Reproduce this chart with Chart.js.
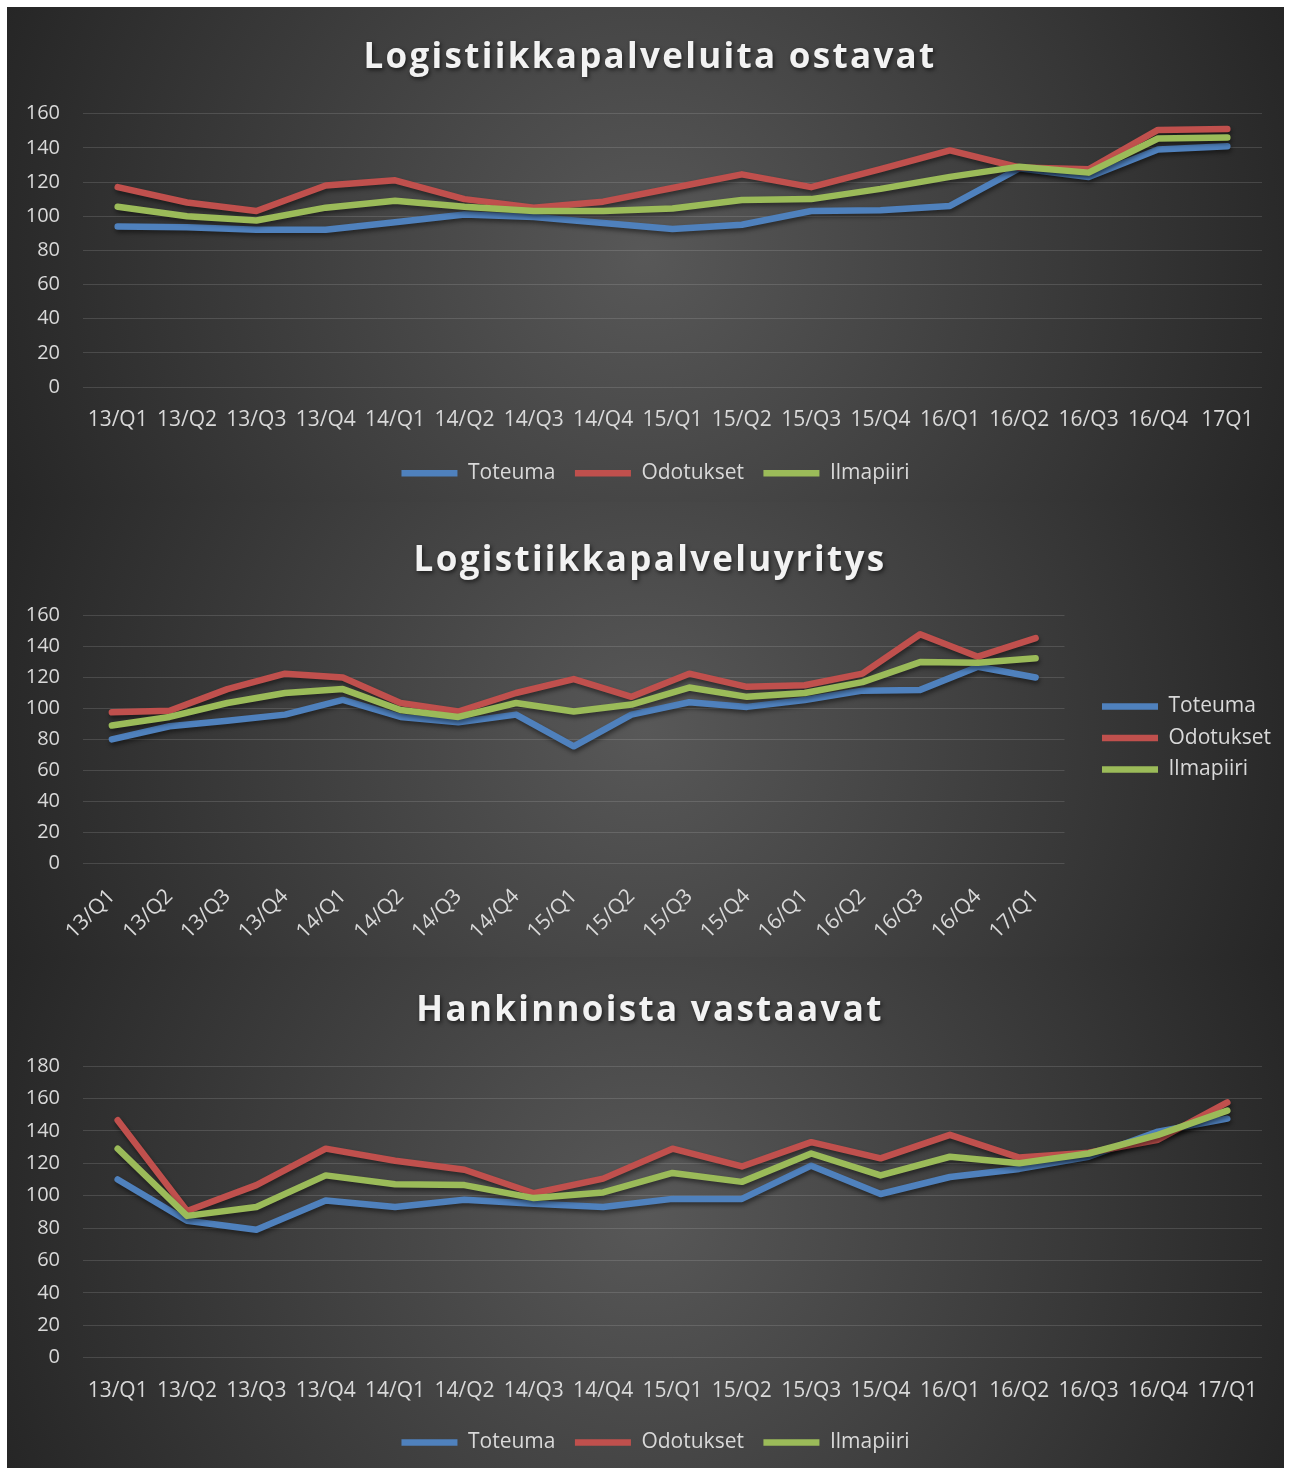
<!DOCTYPE html>
<html><head><meta charset="utf-8">
<script src="https://cdn.jsdelivr.net/npm/chart.js@4.4.1/dist/chart.umd.min.js"></script>
<style>
html,body{margin:0;padding:0;background:#fff;}
#frame{position:absolute;left:7px;top:7px;width:1277px;height:1461px;}
.panel{position:absolute;left:0;width:1277px;background:radial-gradient(circle farthest-corner at 50% 50%, #585858 0%, #262626 100%);}
.panel canvas{display:block;}
</style></head><body>
<div id="frame">
<div class="panel" style="top:0;height:495px"><canvas id="c1" width="1277" height="495"></canvas></div>
<div class="panel" style="top:495px;height:455px"><canvas id="c2" width="1277" height="455"></canvas></div>
<div class="panel" style="top:950px;height:511px"><canvas id="c3" width="1277" height="511"></canvas></div>
</div>
<script>
// ---- data ----
const seriesNames = ['Toteuma', 'Odotukset', 'Ilmapiiri'];
const categories1 = ['13/Q1','13/Q2','13/Q3','13/Q4','14/Q1','14/Q2','14/Q3','14/Q4','15/Q1','15/Q2','15/Q3','15/Q4','16/Q1','16/Q2','16/Q3','16/Q4','17Q1'];
const categories23 = ['13/Q1','13/Q2','13/Q3','13/Q4','14/Q1','14/Q2','14/Q3','14/Q4','15/Q1','15/Q2','15/Q3','15/Q4','16/Q1','16/Q2','16/Q3','16/Q4','17/Q1'];

const title1 = 'Logistiikkapalveluita ostavat';
const toteuma1   = [94, 93.5, 92, 92, 96.5, 101, 99.5, 96, 92.5, 95, 103, 103.5, 106, 128, 123, 139, 141];
const odotukset1 = [117, 108, 103, 118, 121, 110, 105, 108.5, 116.5, 124.5, 117, 127.5, 138.5, 128.5, 127.5, 150.5, 151];
const ilmapiiri1 = [105.5, 100, 97.5, 105, 109, 105.5, 103, 103, 104.5, 109.5, 110, 116, 123, 129, 125.5, 145.5, 146];

const title2 = 'Logistiikkapalveluyritys';
const toteuma2   = [80, 88.5, 92, 96, 105.5, 94.5, 91, 96, 75.5, 96, 104, 101, 105.5, 111.5, 112, 127, 120];
const odotukset2 = [97.5, 98.5, 112.5, 122.5, 120, 103.5, 98, 110, 119, 107.5, 122.5, 114, 115, 122.5, 148, 133.5, 145.5];
const ilmapiiri2 = [89, 94.5, 103.5, 110, 112.5, 99, 94.5, 103.5, 98, 102.5, 113.5, 107.5, 110, 117, 130, 129.5, 132.5];

const title3 = 'Hankinnoista vastaavat';
const toteuma3   = [110, 84.5, 79, 97, 93, 97.5, 95, 93, 98, 98, 118.5, 101, 111.5, 116.5, 124, 139.5, 147.5];
const odotukset3 = [146.5, 90.5, 106.5, 129, 121.5, 116, 101.5, 110.5, 129, 118, 133, 123, 137.5, 123.5, 126.5, 134.5, 157.5];
const ilmapiiri3 = [129, 87.5, 93, 112.5, 107, 106.5, 98.5, 102, 114, 108.5, 126, 112.5, 124, 120, 126, 137.5, 152.5];

const yMax1 = 160, yMax2 = 160, yMax3 = 180, yStep = 20;

// ---- style ----
const colors = ['#4F81BD', '#C0504D', '#9BBB59'];
const textColor = '#d9d9d9';
const gridColor = 'rgba(217,217,217,0.16)';
const FONT = 'Open Sans';

const decor = {
  id: 'decor',
  afterInit(chart, args, opts) {
    const t = chart.titleBlock;
    if (t && !t._wrapped) {
      const d = t.draw.bind(t);
      t.draw = function () {
        const ctx = this.ctx;
        ctx.save();
        ctx.letterSpacing = (opts.titleSpacing || 0) + 'px';
        ctx.shadowColor = 'rgba(0,0,0,0.6)';
        ctx.shadowBlur = 4; ctx.shadowOffsetX = 1.5; ctx.shadowOffsetY = 2;
        d();
        ctx.restore();
      };
      t._wrapped = true;
    }
    const lg = chart.legend;
    if (lg && !lg._wrapped) {
      const f = lg.fit.bind(lg);
      lg.fit = function () {
        f();
        if (opts.legendW != null) this.width = opts.legendW;
        if (opts.legendH != null) this.height = opts.legendH;
      };
      lg._wrapped = true;
    }
  },
  afterLayout(chart, args, opts) {
    const lg = chart.legend;
    if (lg) {
      const dx = opts.legendDx || 0, dy = opts.legendDy || 0;
      lg.left += dx; lg.right += dx; lg.top += dy; lg.bottom += dy;
    }
    const t = chart.titleBlock;
    if (t) { const dx = opts.titleDx || 0; t.left += dx; t.right += dx; }
  },
  beforeDatasetsDraw(chart) {
    const ctx = chart.ctx;
    ctx.save();
    ctx.shadowColor = 'rgba(0,0,0,0.45)';
    ctx.shadowBlur = 4; ctx.shadowOffsetX = 1; ctx.shadowOffsetY = 3;
  },
  afterDatasetsDraw(chart) { chart.ctx.restore(); }
};

function build(id, labels, series, o) {
  return new Chart(document.getElementById(id), {
    type: 'line',
    data: {
      labels: labels,
      datasets: series.map((s, i) => ({
        label: seriesNames[i], data: s,
        borderColor: colors[i], backgroundColor: colors[i],
        borderWidth: 6.5, borderCapStyle: 'round', borderJoinStyle: 'round',
        pointRadius: 0, pointHoverRadius: 0, tension: 0, order: 3 - i
      }))
    },
    options: {
      responsive: false, animation: false,
      layout: { padding: { left: 0, right: o.padRight, top: 0, bottom: 0 } },
      plugins: {
        title: { display: true, text: o.title, color: '#f2f2f2',
          font: { family: FONT, size: 35, weight: 'bold' },
          padding: { top: o.tTop, bottom: o.tBottom } },
        legend: { display: true, position: o.legendPos, align: 'center',
          labels: { color: textColor, font: { family: FONT, size: 21 },
            usePointStyle: true, pointStyle: 'line', pointStyleWidth: 56,
            padding: o.legendPad, sort: (a, b) => a.datasetIndex - b.datasetIndex } },
        tooltip: { enabled: false },
        decor: { titleSpacing: 2.3, titleDx: o.titleDx, legendW: o.legendW, legendH: o.legendH,
          legendDx: o.legendDx, legendDy: o.legendDy }
      },
      scales: {
        x: { type: 'category', offset: true,
          grid: { display: false }, border: { display: false },
          ticks: { color: textColor, font: { family: FONT, size: 21 }, padding: o.xPad,
            maxRotation: o.rot, minRotation: o.rot, autoSkip: false },
          afterFit: s => { s.height = o.xH; } },
        y: { min: 0, max: o.yMax,
          grid: { color: gridColor, drawTicks: false, lineWidth: 1 },
          border: { display: false },
          ticks: { stepSize: yStep, color: textColor, font: { family: FONT, size: 20 }, padding: 23 },
          afterFit: s => { s.width = 76; } }
      }
    },
    plugins: [decor]
  });
}

build('c1', categories1, [toteuma1, odotukset1, ilmapiiri1], {
  title: title1, yMax: yMax1, padRight: 22, tTop: 30.2, tBottom: 34.5, titleDx: 15.5,
  legendPos: 'bottom', legendPad: 19.5, legendH: 58.8, legendDx: 21, legendDy: 0,
  xPad: 12, rot: 0, xH: 56.2
});
build('c2', categories23, [toteuma2, odotukset2, ilmapiiri2], {
  title: title2, yMax: yMax2, padRight: 0, tTop: 38.3, tBottom: 33.4, titleDx: 4.5,
  legendPos: 'right', legendPad: 10.5, legendW: 219.5, legendDx: 27, legendDy: 8.5,
  xPad: 13, rot: 45, xH: 94
});
build('c3', categories23, [toteuma3, odotukset3, ilmapiiri3], {
  title: title3, yMax: yMax3, padRight: 22, tTop: 33, tBottom: 34, titleDx: 15.5,
  legendPos: 'bottom', legendPad: 19.5, legendH: 55.5, legendDx: 21, legendDy: 0,
  xPad: 13, rot: 0, xH: 54.8
});
</script>
</body></html>
